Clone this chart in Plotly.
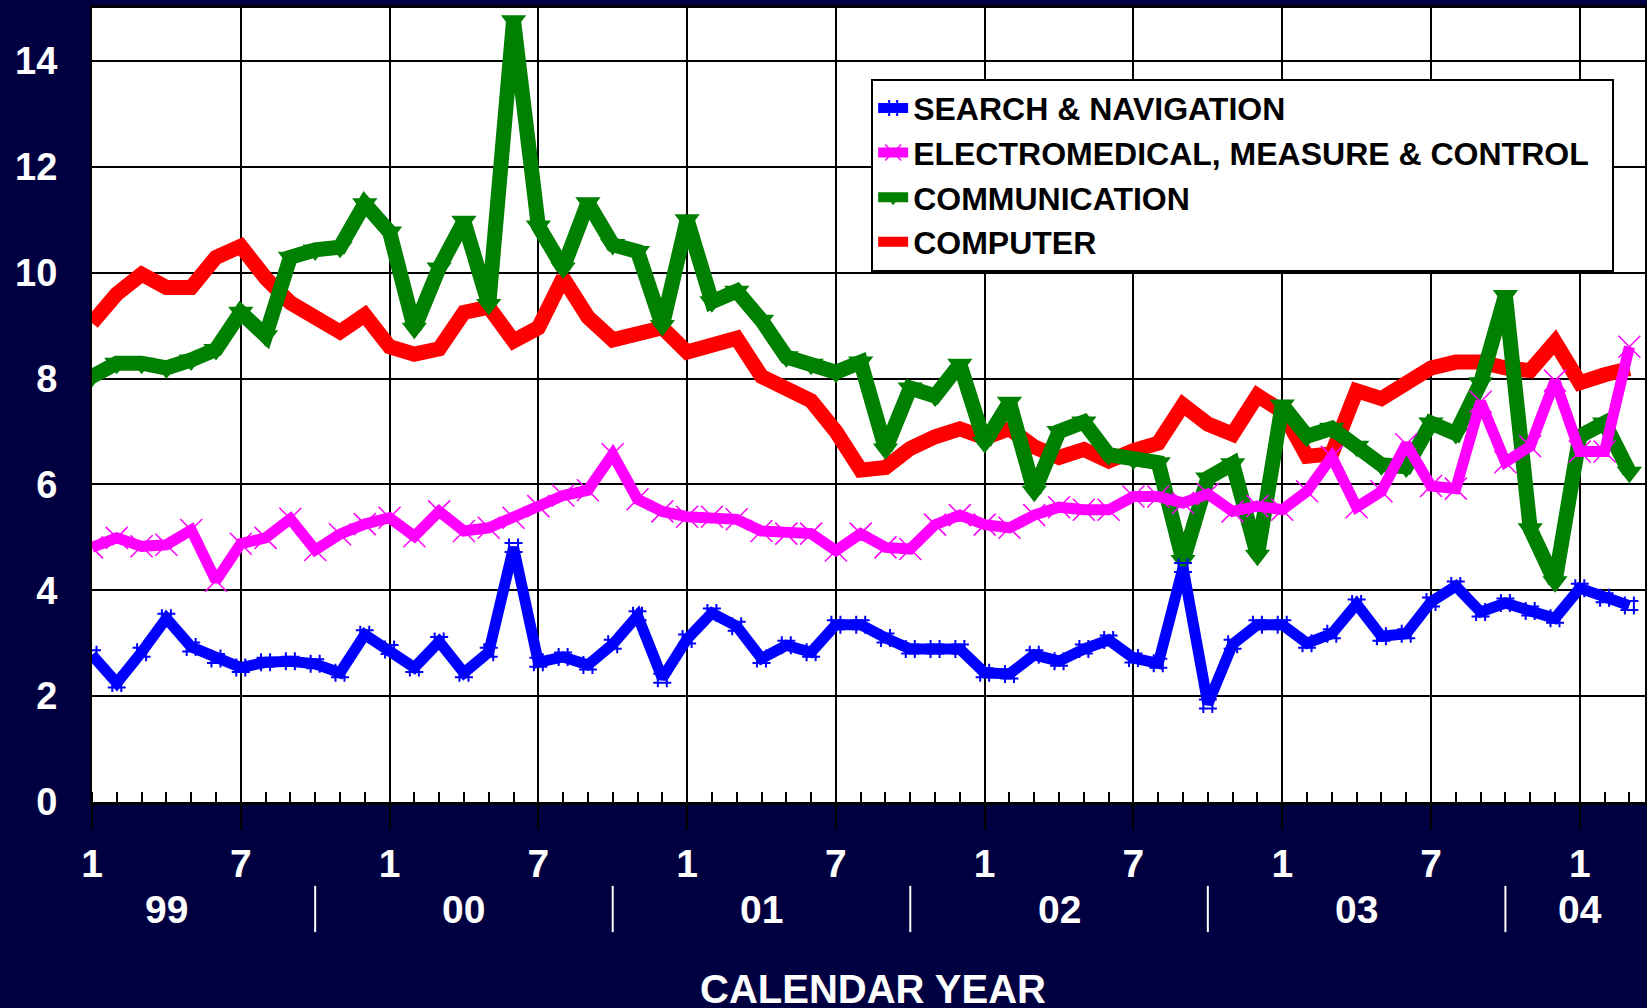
import plotly.graph_objects as go

# Month index 0 = Jan 1999 ... 62 = Mar 2004
tick_positions = [0, 6, 12, 18, 24, 30, 36, 42, 48, 54, 60]
tick_labels = ["1", "7", "1", "7", "1", "7", "1", "7", "1", "7", "1"]
year_labels = ["99", "00", "01", "02", "03", "04"]
year_label_pos = [3, 15, 27, 39, 51, 60]
year_separators = [9, 21, 33, 45, 57]

search_nav = [2.78, 2.25, 2.83, 3.47, 2.93, 2.71, 2.54, 2.64, 2.66, 2.61, 2.44, 3.16,
              2.88, 2.54, 3.03, 2.44, 2.83, 4.81, 2.64, 2.74, 2.59, 2.98, 3.52, 2.34,
              3.08, 3.57, 3.32, 2.71, 2.96, 2.83, 3.35, 3.35, 3.10, 2.89, 2.89, 2.89,
              2.44, 2.42, 2.78, 2.66, 2.89, 3.06, 2.72, 2.62, 4.43, 1.85, 2.98, 3.35,
              3.35, 3.00, 3.18, 3.74, 3.13, 3.18, 3.78, 4.08, 3.59, 3.76, 3.61, 3.47,
              4.04, 3.86, 3.71]
electromed = [4.81, 4.99, 4.83, 4.86, 5.14, 4.18, 4.88, 4.99, 5.35, 4.76, 5.06, 5.25,
              5.37, 5.02, 5.49, 5.12, 5.18, 5.37, 5.59, 5.79, 5.89, 6.57, 5.72, 5.49,
              5.39, 5.39, 5.34, 5.12, 5.07, 5.07, 4.75, 5.07, 4.81, 4.78, 5.24, 5.42,
              5.24, 5.18, 5.42, 5.57, 5.52, 5.52, 5.77, 5.77, 5.65, 5.82, 5.49, 5.59,
              5.52, 5.87, 6.52, 5.57, 5.87, 6.76, 5.97, 5.92, 7.56, 6.42, 6.72, 7.96,
              6.62, 6.62, 8.60]
communication = [8.04, 8.29, 8.29, 8.20, 8.35, 8.55, 9.25, 8.81, 10.29, 10.43, 10.48, 11.30,
                 10.77, 8.95, 10.09, 10.97, 9.40, 14.76, 10.88, 10.09, 11.32, 10.53, 10.40, 9.00,
                 11.00, 9.45, 9.65, 9.10, 8.41, 8.27, 8.12, 8.31, 6.67, 7.82, 7.67, 8.27,
                 6.79, 7.55, 5.87, 7.00, 7.18, 6.56, 6.48, 6.41, 4.56, 6.12, 6.39, 4.66,
                 7.50, 6.91, 7.06, 6.72, 6.37, 6.33, 7.16, 6.96, 7.92, 9.57, 5.16, 4.16,
                 6.91, 7.16, 6.23]
computer = [9.05, 9.60, 9.97, 9.72, 9.72, 10.29, 10.50, 9.90, 9.43, 9.18, 8.88, 9.20,
            8.60, 8.46, 8.56, 9.25, 9.35, 8.71, 8.96, 9.90, 9.16, 8.73, 8.86, 8.96,
            8.50, 8.61, 8.76, 8.04, 7.82, 7.58, 7.00, 6.27, 6.32, 6.68, 6.90, 7.05,
            6.88, 7.05, 6.71, 6.51, 6.66, 6.44, 6.64, 6.78, 7.50, 7.14, 6.95, 7.68,
            7.38, 6.53, 6.58, 7.77, 7.62, 7.92, 8.20, 8.31, 8.31, 8.20, 8.15, 8.69,
            7.92, 8.07, 8.19]

x = list(range(len(computer)))

FONT = "Liberation Sans, Arial, sans-serif"
NAVY = "#000040"

fig = go.Figure()
fig.add_trace(go.Scatter(x=x, y=computer, name="COMPUTER", mode="lines", legendrank=4,
                         line=dict(color="#ff0000", width=15)))
fig.add_trace(go.Scatter(x=x, y=communication, name="COMMUNICATION", mode="lines+markers",
                         legendrank=3,
                         line=dict(color="#008000", width=15),
                         marker=dict(symbol="triangle-down", size=22, color="#008000")))
fig.add_trace(go.Scatter(x=x, y=electromed, name="ELECTROMEDICAL, MEASURE & CONTROL\u00a0\u00a0",
                         mode="lines+markers", legendrank=2,
                         line=dict(color="#ff00ff", width=11),
                         marker=dict(symbol="x-thin", size=22, color="#ff00ff",
                                     line=dict(color="#ff00ff", width=1.5))))
fig.add_trace(go.Scatter(x=x, y=search_nav, name="SEARCH & NAVIGATION", mode="lines+markers",
                         legendrank=1,
                         line=dict(color="#0000ff", width=11),
                         marker=dict(symbol="hash", size=18, color="#0000ff",
                                     line=dict(color="#0000ff", width=2))))

shapes = [dict(type="line", xref="x", yref="paper", x0=s, x1=s, y0=-0.1056, y1=-0.1639,
               line=dict(color="white", width=2)) for s in year_separators]
annotations = [dict(text=t, x=p, xref="x", yref="paper", y=-0.1352, yanchor="middle",
                    showarrow=False,
                    font=dict(family=FONT, size=39, color="white", weight="bold"))
               for t, p in zip(year_labels, year_label_pos)]
annotations.append(dict(text="CALENDAR YEAR", x=0.503, xref="paper", y=-0.236, yref="paper",
                        yanchor="middle", showarrow=False,
                        font=dict(family=FONT, size=40, color="white", weight="bold")))

fig.update_layout(
    width=1647, height=1008,
    margin=dict(l=92, r=0, t=8, b=206),
    paper_bgcolor=NAVY, plot_bgcolor="white",
    font=dict(family=FONT, color="white"),
    showlegend=True,
    legend=dict(x=0.5017, y=0.911, xanchor="left", yanchor="top",
                bgcolor="white", bordercolor="black", borderwidth=2,
                font=dict(family=FONT, size=32, color="black", weight="bold"),
                traceorder="normal", itemwidth=30),
    xaxis=dict(range=[0, 62.63], tickmode="array", tickvals=tick_positions, ticktext=tick_labels,
               tickfont=dict(family=FONT, size=39, color="white", weight="bold"),
               ticks="outside", ticklen=25, tickcolor="black", tickwidth=2,
               showgrid=True, gridcolor="black", gridwidth=2,
               showline=True, linecolor="black", linewidth=3, mirror=True, zeroline=False,
               minor=dict(ticks="inside", tick0=0, dtick=1, ticklen=10, tickcolor="black",
                          tickwidth=2, showgrid=False)),
    yaxis=dict(range=[0, 15], tick0=0, dtick=2,
               tickfont=dict(family=FONT, size=38, color="white", weight="bold"),
               ticks="", ticklabelstandoff=25,
               showgrid=True, gridcolor="black", gridwidth=2,
               showline=True, linecolor="black", linewidth=2, mirror=True, zeroline=False),
    shapes=shapes, annotations=annotations,
)

fig.write_html("out.html", config={"displayModeBar": False},
               post_script="document.body.style.margin='0';"
                           "document.body.style.background='#000040';")
